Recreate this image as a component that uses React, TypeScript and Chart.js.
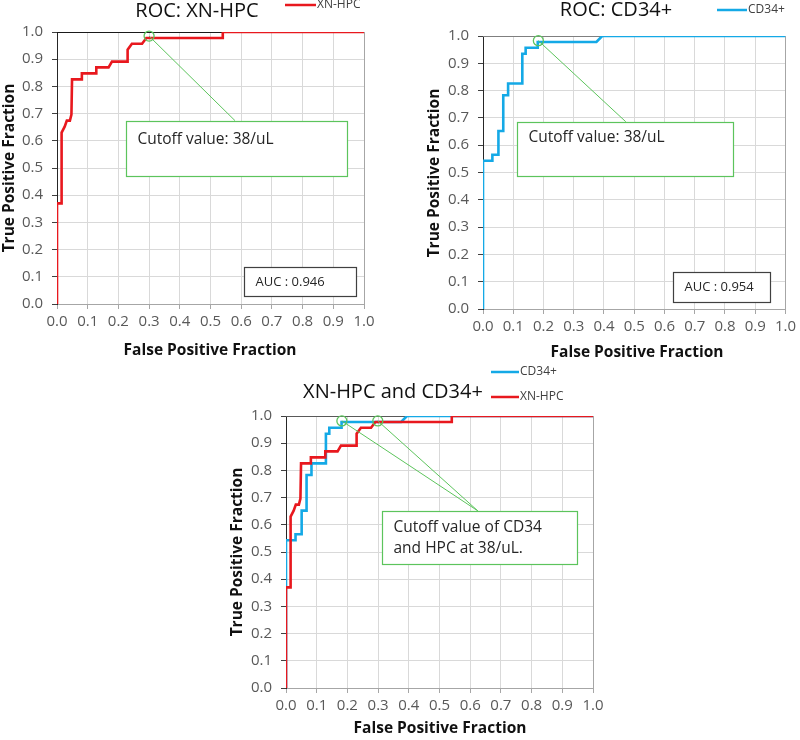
import React, { useEffect, useRef } from "react";
import { Chart, registerables } from "chart.js";

Chart.register(...registerables);

// ---------- data ----------
const xnHpcFpf = [0, 0, 0.015, 0.015, 0.025, 0.032, 0.042, 0.047, 0.049, 0.081, 0.081, 0.128, 0.128, 0.168, 0.179, 0.23, 0.23, 0.244, 0.277, 0.291, 0.54, 0.54, 1.0];
const xnHpcTpf = [0, 0.37, 0.37, 0.63, 0.652, 0.674, 0.674, 0.696, 0.826, 0.826, 0.848, 0.848, 0.87, 0.87, 0.891, 0.891, 0.935, 0.957, 0.957, 0.978, 0.978, 1.0, 1.0];

const cd34Fpf = [0, 0, 0.031, 0.031, 0.051, 0.051, 0.067, 0.067, 0.083, 0.083, 0.13, 0.13, 0.141, 0.141, 0.181, 0.181, 0.375, 0.394, 1.0];
const cd34Tpf = [0, 0.543, 0.543, 0.565, 0.565, 0.652, 0.652, 0.783, 0.783, 0.826, 0.826, 0.935, 0.935, 0.957, 0.957, 0.978, 0.978, 1.0, 1.0];

const xnHpcCutoff = { x: 0.3, y: 0.985 };
const cd34Cutoff = { x: 0.183, y: 0.983 };

const axisTicks = [0, 0.1, 0.2, 0.3, 0.4, 0.5, 0.6, 0.7, 0.8, 0.9, 1.0];

const seriesNames = { xn: "XN-HPC", cd: "CD34+" };
const aucXn = "AUC : 0.946";
const aucCd = "AUC : 0.954";

// ---------- styles ----------
const FONT = '"Open Sans", "Liberation Sans", sans-serif';
const RED = "#e8181e";
const BLUE = "#14a9e6";
const GREEN = "#5cc45c";
const Y_W = 44;
const X_H = 30;

type Box = { x0: number; x1: number; y0: number; y1: number; lines: string[]; dx: number; dy: number; lh: number; color: string; size: number };
type Cfg = {
  area: { left: number; top: number; right: number; bottom: number };
  title: { text: string; x: number; y: number };
  legend: { label: string; color: string; x0: number; x1: number; y: number }[];
  yTitle: { x: number; y: number };
  xTitle: { x: number; y: number };
  boxes: Box[];
  connectors: { from: { x: number; y: number }; to: { x: number; y: number } }[];
  topBorder: string;
  series: { fpf: number[]; tpf: number[]; color: string }[];
  cutoffs: { x: number; y: number }[];
};

const chart1: Cfg = {
  area: { left: 57, top: 32, right: 364, bottom: 304 },
  title: { text: "ROC: XN-HPC", x: 197, y: 11 },
  legend: [{ label: seriesNames.xn, color: RED, x0: 285, x1: 316, y: 5 }],
  yTitle: { x: 10, y: 168 },
  xTitle: { x: 210, y: 351 },
  boxes: [
    { x0: 0.225, x1: 0.945, y0: 0.472, y1: 0.674, lines: ["Cutoff value: 38/uL"], dx: 11, dy: 18, lh: 21, color: GREEN, size: 15.5 },
    { x0: 0.61, x1: 0.974, y0: 0.031, y1: 0.137, lines: [aucXn], dx: 11, dy: 15, lh: 16, color: "#404040", size: 13 },
  ],
  connectors: [{ from: xnHpcCutoff, to: { x: 0.58, y: 0.674 } }],
  topBorder: "#1a1a1a",
  series: [{ fpf: xnHpcFpf, tpf: xnHpcTpf, color: RED }],
  cutoffs: [xnHpcCutoff],
};

const chart2: Cfg = {
  area: { left: 483, top: 36, right: 791, bottom: 309 },
  title: { text: "ROC: CD34+", x: 616, y: 10 },
  legend: [{ label: seriesNames.cd, color: BLUE, x0: 717, x1: 747, y: 10 }],
  yTitle: { x: 435, y: 173 },
  xTitle: { x: 637, y: 353 },
  boxes: [
    { x0: 0.111, x1: 0.828, y0: 0.488, y1: 0.686, lines: ["Cutoff value: 38/uL"], dx: 11, dy: 15, lh: 21, color: GREEN, size: 15.5 },
    { x0: 0.628, x1: 0.949, y0: 0.027, y1: 0.137, lines: [aucCd], dx: 11, dy: 15, lh: 16, color: "#404040", size: 13 },
  ],
  connectors: [{ from: cd34Cutoff, to: { x: 0.472, y: 0.686 } }],
  topBorder: "#7f7f7f",
  series: [{ fpf: cd34Fpf, tpf: cd34Tpf, color: BLUE }],
  cutoffs: [cd34Cutoff],
};

const chart3: Cfg = {
  area: { left: 286, top: 416, right: 593, bottom: 688 },
  title: { text: "XN-HPC and CD34+", x: 393, y: 392 },
  legend: [
    { label: seriesNames.cd, color: BLUE, x0: 491, x1: 519, y: 372 },
    { label: seriesNames.xn, color: RED, x0: 491, x1: 519, y: 397 },
  ],
  yTitle: { x: 238, y: 552 },
  xTitle: { x: 440, y: 729 },
  boxes: [
    { x0: 0.312, x1: 0.947, y0: 0.456, y1: 0.651, lines: ["Cutoff value of CD34", "and HPC at 38/uL."], dx: 11, dy: 16, lh: 21, color: GREEN, size: 15.5 },
  ],
  connectors: [
    { from: { x: 0.182, y: 0.982 }, to: { x: 0.625, y: 0.651 } },
    { from: { x: 0.299, y: 0.982 }, to: { x: 0.625, y: 0.651 } },
  ],
  topBorder: "#595959",
  series: [
    { fpf: xnHpcFpf, tpf: xnHpcTpf, color: RED },
    { fpf: cd34Fpf, tpf: cd34Tpf, color: BLUE },
  ],
  cutoffs: [
    { x: 0.182, y: 0.982 },
    { x: 0.299, y: 0.982 },
  ],
};

function decoPlugin(cfg: Cfg) {
  return {
    id: "rocDeco",
    beforeDatasetsDraw(chart: any) {
      const { ctx, chartArea: ca } = chart;
      ctx.save();
      ctx.lineWidth = 1;
      ctx.strokeStyle = cfg.topBorder;
      ctx.beginPath();
      ctx.moveTo(ca.left, Math.round(ca.top) + 0.5);
      ctx.lineTo(ca.right, Math.round(ca.top) + 0.5);
      ctx.stroke();
      ctx.strokeStyle = "#a6a6a6";
      ctx.beginPath();
      ctx.moveTo(Math.round(ca.right) + 0.5, ca.top);
      ctx.lineTo(Math.round(ca.right) + 0.5, ca.bottom);
      ctx.stroke();
      ctx.restore();
    },
    afterDatasetsDraw(chart: any) {
      const { ctx } = chart;
      const xs = chart.scales.x;
      const ys = chart.scales.y;
      ctx.save();
      ctx.strokeStyle = GREEN;
      ctx.lineWidth = 1;
      cfg.connectors.forEach((c) => {
        ctx.beginPath();
        ctx.moveTo(xs.getPixelForValue(c.from.x), ys.getPixelForValue(c.from.y));
        ctx.lineTo(xs.getPixelForValue(c.to.x), ys.getPixelForValue(c.to.y));
        ctx.stroke();
      });
      cfg.boxes.forEach((b) => {
        const l = Math.round(xs.getPixelForValue(b.x0)) + 0.5;
        const r = Math.round(xs.getPixelForValue(b.x1)) + 0.5;
        const t = Math.round(ys.getPixelForValue(b.y1)) + 0.5;
        const bt = Math.round(ys.getPixelForValue(b.y0)) + 0.5;
        ctx.fillStyle = "#ffffff";
        ctx.fillRect(l, t, r - l, bt - t);
        ctx.strokeStyle = b.color;
        ctx.lineWidth = 1.2;
        ctx.strokeRect(l, t, r - l, bt - t);
        ctx.fillStyle = "#262626";
        ctx.font = `${b.size}px ${FONT}`;
        ctx.textAlign = "left";
        ctx.textBaseline = "middle";
        b.lines.forEach((line, i) => ctx.fillText(line, l + b.dx, t + b.dy + i * b.lh));
      });
      ctx.restore();
    },
    afterDraw(chart: any) {
      const { ctx } = chart;
      ctx.save();
      ctx.textBaseline = "middle";
      // title
      ctx.fillStyle = "#111111";
      ctx.font = `20px ${FONT}`;
      ctx.textAlign = "center";
      ctx.fillText(cfg.title.text, cfg.title.x, cfg.title.y);
      // legend
      cfg.legend.forEach((it) => {
        ctx.strokeStyle = it.color;
        ctx.lineWidth = 2.5;
        ctx.beginPath();
        ctx.moveTo(it.x0, it.y);
        ctx.lineTo(it.x1, it.y);
        ctx.stroke();
        ctx.fillStyle = "#404040";
        ctx.font = `12px ${FONT}`;
        ctx.textAlign = "left";
        ctx.fillText(it.label, it.x1 + 1, it.y);
      });
      // axis titles
      ctx.fillStyle = "#111111";
      ctx.font = `bold 15.5px ${FONT}`;
      ctx.textAlign = "center";
      ctx.fillText("False Positive Fraction", cfg.xTitle.x, cfg.xTitle.y);
      ctx.translate(cfg.yTitle.x, cfg.yTitle.y);
      ctx.rotate(-Math.PI / 2);
      ctx.fillText("True Positive Fraction", 0, 0);
      ctx.restore();
    },
  };
}

function RocChart({ cfg }: { cfg: Cfg }) {
  const ref = useRef<HTMLCanvasElement>(null);
  useEffect(() => {
    const a = cfg.area;
    const lineSets = cfg.series.map((s) => ({
      type: "scatter" as const,
      data: s.fpf.map((x, i) => ({ x, y: s.tpf[i] })),
      showLine: true,
      borderColor: s.color,
      backgroundColor: s.color,
      borderWidth: 2.6,
      pointRadius: 0,
      tension: 0,
      fill: false,
    }));
    const circleSet = {
      type: "scatter" as const,
      data: cfg.cutoffs.map((c) => ({ x: c.x, y: c.y })),
      showLine: false,
      pointRadius: 5,
      pointBorderColor: GREEN,
      pointBackgroundColor: "rgba(0,0,0,0)",
      pointBorderWidth: 1.3,
      clip: false as any,
    };
    const tickFont = { family: FONT, size: 15 };
    const chart = new Chart(ref.current as HTMLCanvasElement, {
      type: "scatter",
      data: { datasets: [circleSet, ...lineSets] as any },
      options: {
        animation: false,
        responsive: false,
        devicePixelRatio: 1,
        events: [],
        layout: {
          padding: { left: a.left - Y_W, top: a.top, right: 800 - a.right, bottom: 740 - a.bottom - X_H },
        },
        plugins: { legend: { display: false }, title: { display: false }, tooltip: { enabled: false } },
        scales: {
          x: {
            type: "linear",
            min: 0,
            max: 1,
            afterFit: (s: any) => {
              s.height = X_H;
            },
            afterBuildTicks: (s: any) => {
              s.ticks = axisTicks.map((v) => ({ value: v }));
            },
            ticks: {
              autoSkip: false,
              maxRotation: 0,
              padding: 4,
              color: "#595959",
              font: tickFont,
              callback: (v: any) => Number(v).toFixed(1),
            },
            grid: { color: "#d9d9d9", tickColor: "#a6a6a6", tickLength: 5 },
            border: { color: "#a6a6a6" },
          },
          y: {
            type: "linear",
            min: 0,
            max: 1,
            afterFit: (s: any) => {
              s.width = Y_W;
            },
            afterBuildTicks: (s: any) => {
              s.ticks = axisTicks.map((v) => ({ value: v }));
            },
            ticks: {
              padding: 9,
              color: "#595959",
              font: tickFont,
              callback: (v: any) => Number(v).toFixed(1),
            },
            grid: { color: "#d9d9d9", tickColor: "#404040", tickLength: 5 },
            border: { color: "#262626" },
          },
        },
      },
      plugins: [decoPlugin(cfg)],
    });
    return () => chart.destroy();
  }, [cfg]);
  return <canvas ref={ref} width={800} height={740} style={{ position: "absolute", left: 0, top: 0, width: 800, height: 740 }} />;
}

export default function App() {
  return (
    <div style={{ position: "absolute", left: 0, top: 0, width: 800, height: 740, background: "#ffffff", overflow: "hidden" }}>
      <RocChart cfg={chart1} />
      <RocChart cfg={chart2} />
      <RocChart cfg={chart3} />
    </div>
  );
}
